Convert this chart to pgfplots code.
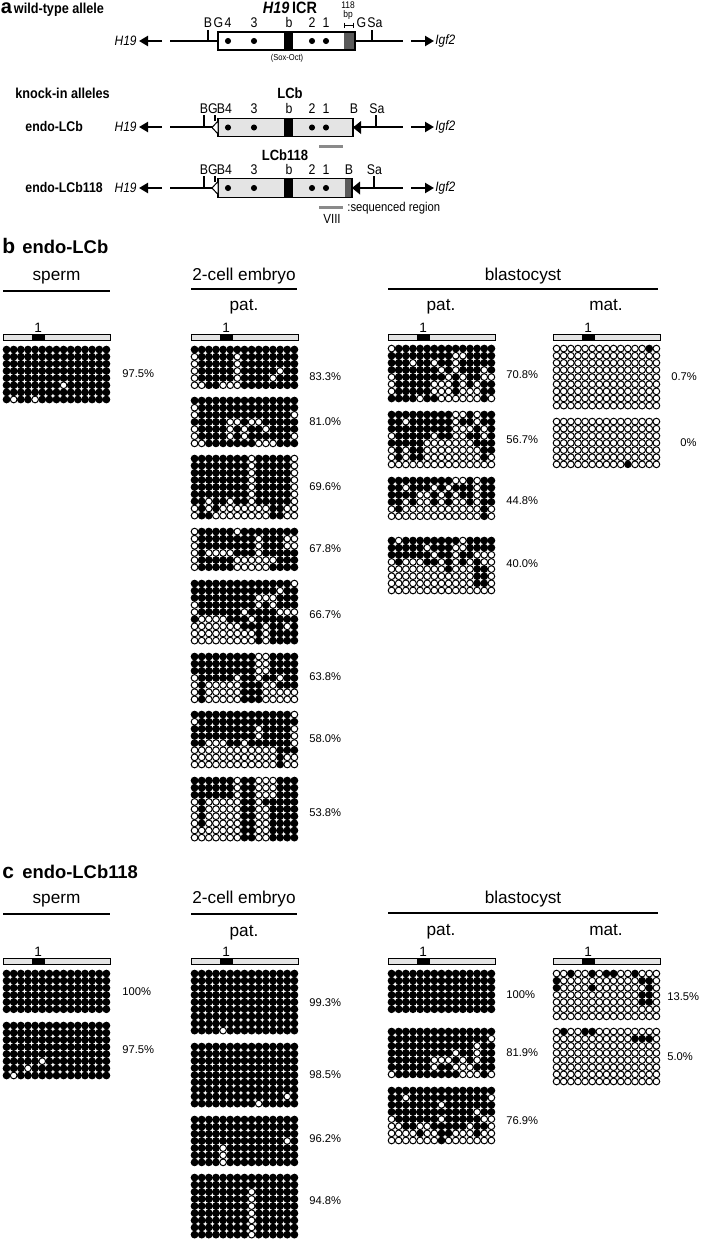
\documentclass[border=0pt]{standalone}
\usepackage{fontspec}
\setmainfont{Liberation Sans}
\newfontfamily\cf[FakeStretch=0.88]{Liberation Sans}
\usepackage{pgfplots}
\usepackage{pgfplotstable}
\pgfplotsset{compat=1.18}
\usetikzlibrary{arrows.meta}
\definecolor{lgray}{HTML}{E4E4E4}
\definecolor{mgray}{HTML}{8A8A8A}
\definecolor{dgray}{HTML}{5A5A5A}

% 1 = methylated, 0 = unmethylated, 9 = missing
\pgfplotstableread[header=false]{
1 1 1 1 1 1 1 1 1 1 1 1 1 1 1
1 1 1 1 1 1 1 1 1 1 1 1 1 1 1
1 1 1 1 1 1 1 1 1 1 1 1 1 1 1
1 1 1 1 1 1 1 1 1 1 1 1 1 1 1
1 1 1 1 1 1 1 1 1 1 1 1 1 1 1
1 1 1 1 1 1 1 1 0 1 1 1 1 1 1
1 1 1 1 1 1 1 1 1 1 1 1 1 1 1
1 0 1 1 0 1 1 1 1 1 1 1 1 1 1
}\bSp
\pgfplotstableread[header=false]{
1 1 1 1 1 1 1 1 1 1 1 1 1 1 1
0 1 1 1 1 1 0 1 1 1 1 1 1 1 1
0 1 1 1 1 1 0 1 1 1 1 1 1 1 1
0 1 1 1 1 1 0 1 1 1 1 1 0 1 1
0 1 1 1 1 1 0 1 1 1 1 0 1 1 1
0 0 1 1 0 0 0 1 1 1 1 1 1 1 1
}\bCa
\pgfplotstableread[header=false]{
1 1 1 1 1 1 1 1 1 1 1 1 1 1 1
0 1 1 1 1 1 1 1 1 1 1 1 1 1 1
0 1 1 1 1 1 1 1 1 1 1 1 1 1 0
1 1 1 1 1 0 0 1 0 0 1 1 1 1 1
0 1 1 1 1 0 1 0 1 1 0 1 1 1 1
0 1 1 1 1 0 1 0 1 1 1 1 1 1 0
0 0 1 1 1 1 1 1 1 0 0 0 1 1 1
}\bCb
\pgfplotstableread[header=false]{
1 1 1 1 1 1 1 1 0 1 1 1 1 1 0
1 1 1 1 1 1 1 1 0 1 1 1 1 1 0
1 1 1 1 1 1 1 1 0 1 1 1 1 1 0
1 1 1 1 1 1 1 1 0 1 1 1 1 1 0
1 1 1 1 1 1 1 1 0 1 1 1 1 1 0
1 1 1 1 1 1 1 1 0 1 1 1 1 1 0
1 1 0 1 1 0 1 1 0 1 1 1 1 1 0
0 1 0 1 0 0 0 0 0 0 0 1 1 0 0
0 1 1 0 0 0 0 0 0 0 0 1 1 0 0
}\bCc
\pgfplotstableread[header=false]{
0 1 1 1 1 1 0 1 1 1 1 1 1 1 1
0 1 1 1 1 1 1 1 1 0 1 1 1 0 0
0 1 1 1 1 1 1 1 1 0 1 1 1 0 0
0 1 0 0 0 0 1 1 1 0 1 1 1 1 1
0 1 1 1 1 1 0 0 0 0 0 0 1 1 1
0 1 1 1 1 1 0 0 0 0 0 1 1 1 1
}\bCd
\pgfplotstableread[header=false]{
1 1 1 1 1 1 1 1 1 1 1 1 1 1 0
1 1 1 1 1 1 1 1 1 1 1 1 0 1 1
1 1 1 1 1 1 1 1 1 0 0 0 1 1 1
0 1 1 1 1 1 1 1 1 0 1 0 1 1 1
0 1 1 1 1 1 1 0 1 1 1 1 0 0 0
1 0 0 0 0 1 1 1 0 1 1 1 1 1 1
0 0 0 0 0 0 0 1 1 1 0 1 1 0 1
0 0 0 0 0 0 0 0 0 1 0 1 1 1 1
0 0 0 0 0 0 0 0 0 1 0 1 1 1 1
}\bCe
\pgfplotstableread[header=false]{
1 1 1 1 1 1 1 1 1 0 0 1 1 1 1
1 1 1 1 1 1 1 1 1 0 0 1 1 1 1
1 1 1 1 1 1 1 1 1 0 0 1 1 1 1
0 1 1 1 1 1 0 1 1 0 1 1 0 1 1
0 1 0 0 0 0 0 1 1 1 0 0 1 1 1
0 1 0 0 0 0 0 1 1 1 0 0 0 0 0
0 1 0 0 0 0 0 1 1 1 0 0 0 0 0
}\bCf
\pgfplotstableread[header=false]{
1 1 1 1 1 1 1 1 1 1 1 1 1 1 0
0 1 1 1 1 1 1 1 1 1 1 1 1 1 1
1 1 1 1 1 1 1 1 1 0 1 1 1 1 0
1 9 1 1 1 1 1 1 1 0 1 1 1 1 0
1 1 0 0 0 1 1 0 1 1 1 1 1 1 0
0 0 0 0 0 0 0 0 0 0 0 0 1 1 1
0 0 0 0 0 0 0 0 0 0 0 0 1 0 0
0 0 0 0 0 0 0 0 0 0 0 0 1 0 0
}\bCg
\pgfplotstableread[header=false]{
1 1 1 1 1 1 0 1 1 0 0 0 1 1 1
1 1 1 1 1 1 0 1 1 0 0 0 1 1 1
1 1 1 1 1 1 0 1 1 0 0 0 1 1 1
0 1 0 0 0 0 0 1 1 0 9 1 1 1 1
0 1 0 0 0 0 0 1 1 0 0 1 1 1 1
0 1 0 0 0 0 0 1 1 0 0 1 1 1 1
0 1 0 0 0 0 0 1 1 0 0 1 1 1 1
0 0 0 0 0 0 0 1 1 0 0 1 1 1 1
0 0 0 0 0 0 0 1 1 0 0 1 1 1 1
}\bCh
\pgfplotstableread[header=false]{
0 1 1 1 1 1 1 1 1 1 1 1 1 1 1
1 1 1 1 1 1 1 1 1 0 0 1 1 1 1
1 1 1 0 1 1 0 1 1 0 1 1 1 1 1
1 1 1 1 1 1 1 0 1 0 1 1 1 0 1
0 1 1 1 1 1 1 1 0 1 0 1 1 0 0
0 1 1 1 1 1 0 0 0 1 0 1 0 1 1
0 1 1 1 1 1 0 0 0 1 0 0 0 1 1
1 1 1 1 0 1 1 0 0 0 0 0 0 1 0
}\bPa
\pgfplotstableread[header=false]{
1 1 1 1 1 1 1 1 1 0 0 1 0 1 1
1 1 0 1 1 1 1 1 1 0 1 1 0 1 1
1 1 1 1 1 1 1 1 1 0 0 0 1 0 1
0 1 1 1 1 1 0 1 1 0 0 1 1 0 1
1 1 1 1 1 0 0 0 0 0 0 0 1 1 1
0 1 0 1 1 0 0 0 0 0 0 0 0 1 1
0 1 0 1 1 0 0 0 0 0 0 0 0 1 0
0 0 0 0 0 0 0 0 0 0 0 0 0 0 0
}\bPb
\pgfplotstableread[header=false]{
1 1 1 1 1 1 1 1 1 0 0 1 0 1 1
1 1 0 1 1 1 0 1 0 1 1 1 0 1 1
1 1 1 1 0 0 1 0 1 0 1 1 0 1 1
1 1 0 1 0 0 1 0 1 0 0 1 0 1 1
0 1 0 0 0 0 0 0 0 0 0 0 0 1 0
0 0 0 0 0 0 0 0 0 0 0 0 0 1 0
}\bPc
\pgfplotstableread[header=false]{
1 0 1 1 1 1 1 1 1 1 0 1 1 1 1
1 1 1 1 1 0 1 1 1 0 0 1 1 1 1
1 1 1 1 1 1 0 1 1 0 1 1 0 0 0
0 1 0 0 0 1 1 0 1 0 1 0 1 0 0
0 0 0 0 0 0 0 0 1 0 0 0 1 1 0
0 0 0 0 0 0 0 0 0 0 0 0 1 1 0
0 0 0 0 0 0 0 0 0 0 0 0 1 1 0
0 0 0 0 0 0 0 0 0 0 0 0 0 0 0
}\bPd
\pgfplotstableread[header=false]{
0 0 0 0 0 0 0 0 0 0 0 0 0 1 0
0 0 0 0 0 0 0 0 0 0 0 0 0 0 0
0 0 0 0 0 0 0 0 0 0 0 0 0 0 0
0 0 0 0 0 0 0 0 0 0 0 0 0 0 0
0 0 0 0 0 0 0 0 0 0 0 0 0 0 0
0 0 0 0 0 0 0 0 0 0 0 0 0 0 0
0 0 0 0 0 0 0 0 0 0 0 0 0 0 0
0 0 0 0 0 0 0 0 0 0 0 0 0 0 0
0 0 0 0 0 0 0 0 0 0 0 0 0 0 0
}\bMa
\pgfplotstableread[header=false]{
0 0 0 0 0 0 0 0 0 0 0 0 0 0 0
0 0 0 0 0 0 0 0 0 0 0 0 0 0 0
0 0 0 0 0 0 0 0 0 0 0 0 0 0 0
0 0 0 0 0 0 0 0 0 0 0 0 0 0 0
0 0 0 0 0 0 0 0 0 0 0 0 0 0 0
0 0 0 0 0 0 0 0 0 0 0 0 0 0 0
0 0 0 0 0 0 0 0 0 0 9 0 0 0 0
}\bMb
% ---- panel c
\pgfplotstableread[header=false]{
1 1 1 1 1 1 1 1 1 1 1 1 1 1 1
1 1 1 1 1 1 1 1 1 1 1 1 1 1 1
1 1 1 1 1 1 1 1 1 1 1 1 1 1 1
1 1 1 1 1 1 1 1 1 1 1 1 1 1 1
1 1 1 1 1 1 1 1 1 1 1 1 1 1 1
1 1 1 1 1 1 1 1 1 1 1 1 1 1 1
}\cSa
\pgfplotstableread[header=false]{
1 1 1 1 1 1 1 1 1 1 1 1 1 1 1
1 1 1 1 1 1 1 1 1 1 1 1 1 1 1
1 1 1 1 1 1 1 1 1 1 1 1 1 1 1
1 1 1 1 1 1 1 1 1 1 1 1 1 1 1
1 1 1 1 1 1 1 1 1 1 1 1 1 1 1
1 1 1 1 1 0 1 1 1 1 1 1 1 1 1
1 1 1 0 1 1 1 1 1 1 1 1 1 1 1
1 0 1 1 1 1 1 1 1 1 1 1 1 1 1
}\cSb
\pgfplotstableread[header=false]{
1 1 1 1 1 1 1 1 1 1 1 1 1 1 1
1 1 1 1 1 1 1 1 1 1 1 1 1 1 1
1 1 1 1 1 1 1 1 1 1 1 1 1 1 1
1 1 1 1 1 1 1 1 1 1 1 1 1 1 1
1 1 1 1 1 1 1 1 1 1 1 1 1 1 1
1 1 1 1 1 1 1 1 1 1 1 1 1 1 1
1 1 1 1 1 1 1 1 1 1 1 1 1 1 1
1 1 1 1 1 1 1 1 1 1 1 1 1 1 1
1 1 1 1 0 1 1 1 1 1 1 1 1 1 1
}\cCa
\pgfplotstableread[header=false]{
1 1 1 1 1 1 1 1 1 1 1 1 1 1 1
1 1 1 1 1 1 1 1 1 1 1 1 1 1 1
1 1 1 1 1 1 1 1 1 1 1 1 1 1 1
1 1 1 1 1 1 1 1 1 1 1 1 1 1 1
1 1 1 1 1 1 1 1 1 1 1 1 1 1 1
1 1 1 1 1 1 1 1 1 1 1 1 1 1 1
1 1 1 1 1 1 1 1 1 1 1 1 1 1 1
1 1 1 1 1 1 1 1 1 1 1 1 1 0 1
1 1 1 1 1 1 1 1 1 0 1 1 1 1 1
}\cCb
\pgfplotstableread[header=false]{
1 1 1 1 1 1 1 1 1 1 1 1 1 1 1
1 1 1 1 1 1 1 1 1 1 1 1 1 1 1
1 1 1 1 1 1 1 1 1 1 1 1 1 1 1
1 1 1 1 1 1 1 1 1 1 1 1 1 0 1
1 1 1 1 0 1 1 1 1 1 1 1 1 1 1
1 1 1 1 0 1 1 1 1 1 1 1 1 1 1
1 1 1 1 0 1 1 1 1 1 1 1 1 1 1
}\cCc
\pgfplotstableread[header=false]{
1 1 1 1 1 1 1 1 1 1 1 1 1 1 1
1 1 1 1 1 1 1 1 1 1 1 1 1 1 1
1 1 1 1 1 1 1 1 0 1 1 1 1 1 1
1 1 1 1 1 1 1 1 0 1 1 1 1 1 1
1 1 1 1 1 1 1 1 0 1 1 1 1 1 1
1 1 1 1 1 1 1 1 0 1 1 1 1 1 1
1 1 1 1 1 1 1 1 0 1 1 1 1 1 1
1 1 1 1 1 1 1 1 0 1 1 1 1 1 1
1 1 1 1 1 1 1 1 0 1 1 1 1 1 1
}\cCd
\pgfplotstableread[header=false]{
1 1 1 1 1 1 1 1 1 1 1 1 1 1 1
1 1 1 1 1 1 1 1 1 1 1 1 1 1 0
1 1 1 1 1 1 1 1 1 1 1 1 0 1 1
1 1 1 1 1 1 1 1 1 0 1 1 0 1 1
1 1 1 1 1 1 0 0 0 1 0 1 0 1 1
1 1 1 1 1 1 0 1 1 0 0 0 1 1 1
0 1 1 1 1 1 1 1 1 1 0 0 0 1 0
}\cPb
\pgfplotstableread[header=false]{
1 1 1 1 1 1 1 1 1 1 1 1 1 1 1
1 1 0 1 1 1 1 1 1 1 1 1 1 1 0
1 1 9 1 1 1 1 0 1 1 1 1 1 1 1
1 1 1 1 1 1 1 1 1 1 1 1 0 1 1
0 1 1 1 1 1 1 0 1 1 1 1 1 0 0
0 0 1 1 0 0 1 1 1 1 1 0 1 1 0
0 0 0 0 1 0 0 1 1 0 0 0 1 0 0
0 0 0 0 0 0 0 1 0 0 0 0 0 0 0
}\cPc
\pgfplotstableread[header=false]{
0 0 1 0 0 1 0 1 1 0 0 1 0 0 0
1 0 0 0 0 0 0 0 0 0 0 0 1 1 0
1 0 0 0 0 9 0 0 0 0 0 0 0 1 0
0 0 0 0 0 0 0 0 0 0 0 0 1 1 0
0 0 0 0 0 0 0 0 0 0 0 0 1 1 0
0 0 0 0 0 0 0 0 0 0 0 0 0 0 0
0 0 0 0 0 0 0 0 0 0 0 0 0 0 0
}\cMa
\pgfplotstableread[header=false]{
0 1 0 0 1 1 0 0 0 0 0 0 0 0 0
0 0 0 0 0 0 0 0 0 0 0 1 1 1 0
0 0 0 0 0 0 0 0 0 0 0 0 0 0 0
0 0 0 0 0 0 0 0 0 0 0 0 0 0 0
0 0 0 0 0 0 0 0 0 0 0 0 0 0 0
0 0 0 0 0 0 0 0 0 0 0 0 0 0 0
0 0 0 0 0 0 0 0 0 0 0 0 0 0 0
0 0 0 0 0 0 0 0 0 0 0 0 0 0 0
}\cMb

\pgfplotsset{
  dotgrid/.style={scatter, only marks, mark=*, mark size=1.68pt,
    point meta=explicit symbolic,
    scatter/classes={
      1={mark=*, draw=black, fill=black, line width=0.5pt},
      0={mark=*, draw=black, fill=white, line width=0.5pt},
      9={mark=*, draw=none, fill=none}}},
}
% grid: table, left x, top y
\newcommand{\G}[3]{%
  \pgfplotsinvokeforeach{0,...,14}{%
    \addplot[dotgrid] table[x expr={#2+3.565+7.13*##1}, y expr={#3+3.565+7.13*\coordindex}, meta index=##1] {#1};
  }}
% region bar: left x, center y
\newcommand{\rbar}[2]{%
  \filldraw[fill=lgray, draw=black, line width=0.4pt] (#1,#2-3) rectangle (#1+107,#2+3);
  \fill[black] (#1+28.5,#2-3) rectangle (#1+42,#2+3);
  \draw[line width=0.4pt] (#1,#2-3) rectangle (#1+107,#2+3);
  \node[font=\fontsize{6.8}{8}\selectfont, anchor=base, inner sep=0] at (#1+35.2,#2-4.6) {1};
}
\newcommand{\pct}[3]{\node[font=\fontsize{5.6}{7}\selectfont, anchor=west, inner sep=0] at (#1,#2) {#3};}
\newcommand{\hd}[3]{\node[font=\fontsize{8.6}{10}\selectfont, anchor=base, inner sep=0] at (#1,#2) {#3};}
\newcommand{\al}[3]{\node[font=\cf\fontsize{7}{8}\selectfont, anchor=base, inner sep=0] at (#1,#2) {#3};}

\begin{document}
\begin{tikzpicture}
\begin{axis}[scale only axis, width=351.5pt, height=619.5pt,
  xmin=0, xmax=703, ymin=0, ymax=1239, y dir=reverse,
  hide axis, clip=false]
\coordinate (TL) at (axis cs:0,0);
\coordinate (BR) at (axis cs:703,1239);

% ================= panel a =================
\node[font=\fontsize{10}{12}\selectfont\bfseries, anchor=base west, inner sep=0] at (0.5,13.5) {a};
\node[font=\cf\fontsize{7.2}{8}\selectfont\bfseries, anchor=base west, inner sep=0] at (13.5,13.5) {wild-type allele};
\node[font=\cf\fontsize{8.2}{9}\selectfont\bfseries, anchor=base, inner sep=0] at (290,13.5) {\textit{H19}\,ICR};
\node[font=\cf\fontsize{4.8}{5}\selectfont, anchor=base, inner sep=0] at (348,8) {118};
\node[font=\cf\fontsize{4.8}{5}\selectfont, anchor=base, inner sep=0] at (348,17.5) {bp};
\draw[line width=0.45pt] (344,25) -- (353,25) (344,22.5) -- (344,27.5) (353,22.5) -- (353,27.5);
\al{208}{27.5}{B}\al{218.5}{27.5}{G}\al{228}{27.5}{4}\al{254}{27.5}{3}\al{289}{27.5}{b}\al{312}{27.5}{2}\al{326}{27.5}{1}\al{361.5}{27.5}{G}\al{375}{27.5}{Sa}
\draw[line width=0.6pt] (170,41) -- (403,41);
\draw[line width=0.6pt] (208,41) -- (208,29.5) (372,41) -- (372,29.5);
\filldraw[fill=white, line width=0.6pt] (218,32) rectangle (355,50);
\fill[black] (284,32) rectangle (293,50);
\fill[dgray] (344,32) rectangle (355,50);
\draw[line width=0.6pt] (218,32) rectangle (355,50);
\addplot[only marks, mark=*, mark size=1.3pt, black] coordinates {(228,41) (254,41) (312,41) (326,41)};
\draw[line width=1.1pt, -{Triangle[length=4.5pt, width=5pt]}] (162,41) -- (139,41);
\draw[line width=1.1pt, -{Triangle[length=4.5pt, width=5pt]}] (411,41) -- (434,41);
\node[font=\cf\fontsize{6.8}{8}\selectfont\itshape, anchor=east, inner sep=0] at (137,41) {H19};
\node[font=\cf\fontsize{6.8}{8}\selectfont\itshape, anchor=west, inner sep=0] at (435,41) {Igf2};
\node[font=\cf\fontsize{4.3}{5}\selectfont, anchor=center, inner sep=0] at (287,58) {(Sox-Oct)};

\node[font=\cf\fontsize{7.2}{8}\selectfont\bfseries, anchor=base west, inner sep=0] at (15,98) {knock-in alleles};
\node[font=\cf\fontsize{7.4}{8}\selectfont\bfseries, anchor=base, inner sep=0] at (290,98) {LCb};
\node[font=\cf\fontsize{7.4}{8}\selectfont\bfseries, anchor=base, inner sep=0] at (285,160) {LCb118};

% endo-LCb (y=127)
\al{204}{113}{B}\al{213}{113}{G}\al{221}{113}{B}\al{228.5}{113}{4}\al{254}{113}{3}\al{289}{113}{b}\al{312}{113}{2}\al{326}{113}{1}\al{354}{113}{B}\al{377}{113}{Sa}
\node[font=\cf\fontsize{7}{8}\selectfont\bfseries, anchor=base west, inner sep=0] at (25,131) {endo-LCb};
\draw[line width=0.6pt] (170,127) -- (403,127);
\draw[line width=0.6pt] (204,127) -- (204,115) (215,121) -- (215,115) (376,127) -- (376,115);
\filldraw[fill=lgray, line width=0.6pt] (218,118.3) rectangle (353,136.7);
\fill[black] (284,118.3) rectangle (293,136.7);
\draw[line width=0.6pt] (218,118.3) rectangle (353,136.7);
\addplot[only marks, mark=*, mark size=1.3pt, black] coordinates {(228,127.5) (254,127.5) (312,127.5) (326,127.5)};
\filldraw[fill=white, line width=0.5pt] (218,121) -- (218,134) -- (212,127.5) -- cycle;
\fill[black] (361,121) -- (361,134) -- (353,127.5) -- cycle;
\draw[line width=1.1pt, -{Triangle[length=4.5pt, width=5pt]}] (162,127) -- (139,127);
\draw[line width=1.1pt, -{Triangle[length=4.5pt, width=5pt]}] (411,127) -- (434,127);
\node[font=\cf\fontsize{6.8}{8}\selectfont\itshape, anchor=east, inner sep=0] at (137,127) {H19};
\node[font=\cf\fontsize{6.8}{8}\selectfont\itshape, anchor=west, inner sep=0] at (435,127) {Igf2};
\draw[mgray, line width=1.5pt] (319,146) -- (343,146);

% endo-LCb118 (y=188)
\al{204}{174.5}{B}\al{213}{174.5}{G}\al{221}{174.5}{B}\al{228.5}{174.5}{4}\al{254}{174.5}{3}\al{289}{174.5}{b}\al{312}{174.5}{2}\al{326}{174.5}{1}\al{349}{174.5}{B}\al{374.5}{174.5}{Sa}
\node[font=\cf\fontsize{7}{8}\selectfont\bfseries, anchor=base west, inner sep=0] at (25,192.5) {endo-LCb118};
\draw[line width=0.6pt] (170,188) -- (403,188);
\draw[line width=0.6pt] (204,188) -- (204,176) (215,182) -- (215,176) (374,188) -- (374,176);
\filldraw[fill=lgray, line width=0.6pt] (218,178.7) rectangle (352,197.3);
\fill[black] (284,178.7) rectangle (293,197.3);
\fill[dgray] (345,178.7) rectangle (352,197.3);
\draw[line width=0.6pt] (218,178.7) rectangle (352,197.3);
\addplot[only marks, mark=*, mark size=1.3pt, black] coordinates {(228,188) (254,188) (312,188) (326,188)};
\filldraw[fill=white, line width=0.5pt] (218,181.5) -- (218,194.5) -- (212,188) -- cycle;
\fill[black] (360,181.5) -- (360,194.5) -- (352,188) -- cycle;
\draw[line width=1.1pt, -{Triangle[length=4.5pt, width=5pt]}] (162,188) -- (139,188);
\draw[line width=1.1pt, -{Triangle[length=4.5pt, width=5pt]}] (411,188) -- (434,188);
\node[font=\cf\fontsize{6.8}{8}\selectfont\itshape, anchor=east, inner sep=0] at (137,188) {H19};
\node[font=\cf\fontsize{6.8}{8}\selectfont\itshape, anchor=west, inner sep=0] at (435,188) {Igf2};
\draw[mgray, line width=1.5pt] (319,207.7) -- (343,207.7);
\node[font=\cf\fontsize{6.4}{8}\selectfont, anchor=base west, inner sep=0] at (347,211.5) {:sequenced region};
\node[font=\cf\fontsize{6.6}{8}\selectfont, anchor=base, inner sep=0] at (332,223) {VIII};

% ================= panel b =================
\node[font=\fontsize{10.5}{12}\selectfont\bfseries, anchor=base west, inner sep=0] at (2,253) {b};
\node[font=\fontsize{9.2}{11}\selectfont\bfseries, anchor=base west, inner sep=0] at (22,253) {endo-LCb};
\hd{56.5}{280}{sperm}
\draw[line width=0.6pt] (3,291) -- (110,291);
\hd{244}{280}{2-cell embryo}
\draw[line width=0.6pt] (191,289) -- (297,289);
\hd{244}{310}{pat.}
\hd{523}{280}{blastocyst}
\draw[line width=0.6pt] (388,289) -- (658,289);
\hd{441}{310}{pat.}
\hd{606}{310}{mat.}
\rbar{3}{337.5}\rbar{191}{337.5}\rbar{388}{337.5}\rbar{553}{337.5}

\G{\bSp}{3}{346}   \pct{122}{374}{97.5\%}
\G{\bCa}{191}{346} \pct{309}{377}{83.3\%}
\G{\bCb}{191}{397} \pct{309}{422}{81.0\%}
\G{\bCc}{191}{455} \pct{309}{487}{69.6\%}
\G{\bCd}{191}{528} \pct{309}{549}{67.8\%}
\G{\bCe}{191}{580} \pct{309}{615}{66.7\%}
\G{\bCf}{191}{653} \pct{309}{677}{63.8\%}
\G{\bCg}{191}{711} \pct{309}{739}{58.0\%}
\G{\bCh}{191}{777} \pct{309}{813}{53.8\%}
\G{\bPa}{388}{345} \pct{506}{375}{70.8\%}
\G{\bPb}{388}{411} \pct{506}{440}{56.7\%}
\G{\bPc}{388}{477} \pct{506}{501}{44.8\%}
\G{\bPd}{388}{537} \pct{506}{564}{40.0\%}
\G{\bMa}{553}{345} \pct{671}{377}{0.7\%}
\G{\bMb}{553}{418} \pct{680}{443}{0\%}

% ================= panel c =================
\node[font=\fontsize{10.5}{12}\selectfont\bfseries, anchor=base west, inner sep=0] at (2,878) {c};
\node[font=\fontsize{9.2}{11}\selectfont\bfseries, anchor=base west, inner sep=0] at (22,878) {endo-LCb118};
\hd{56.5}{903}{sperm}
\draw[line width=0.6pt] (3,914) -- (110,914);
\hd{244}{903}{2-cell embryo}
\draw[line width=0.6pt] (191,914) -- (297,914);
\hd{244}{936}{pat.}
\hd{523}{903}{blastocyst}
\draw[line width=0.6pt] (388,913) -- (658,913);
\hd{441}{935}{pat.}
\hd{606}{935}{mat.}
\rbar{3}{961.5}\rbar{191}{961.5}\rbar{388}{961.5}\rbar{553}{961.5}

\G{\cSa}{3}{970}    \pct{122}{992}{100\%}
\G{\cSb}{3}{1022}   \pct{122}{1050}{97.5\%}
\G{\cCa}{191}{970}  \pct{309}{1003}{99.3\%}
\G{\cCb}{191}{1043} \pct{309}{1075}{98.5\%}
\G{\cCc}{191}{1116} \pct{309}{1139}{96.2\%}
\G{\cCd}{191}{1174} \pct{309}{1201}{94.8\%}
\G{\cSa}{388}{970}  \pct{506}{995}{100\%}
\G{\cPb}{388}{1028} \pct{506}{1053}{81.9\%}
\G{\cPc}{388}{1087} \pct{506}{1121}{76.9\%}
\G{\cMa}{553}{970}  \pct{667}{997}{13.5\%}
\G{\cMb}{553}{1028} \pct{667}{1057}{5.0\%}
\end{axis}
\pgfresetboundingbox
\path (TL) rectangle (BR);
\end{tikzpicture}
\end{document}
